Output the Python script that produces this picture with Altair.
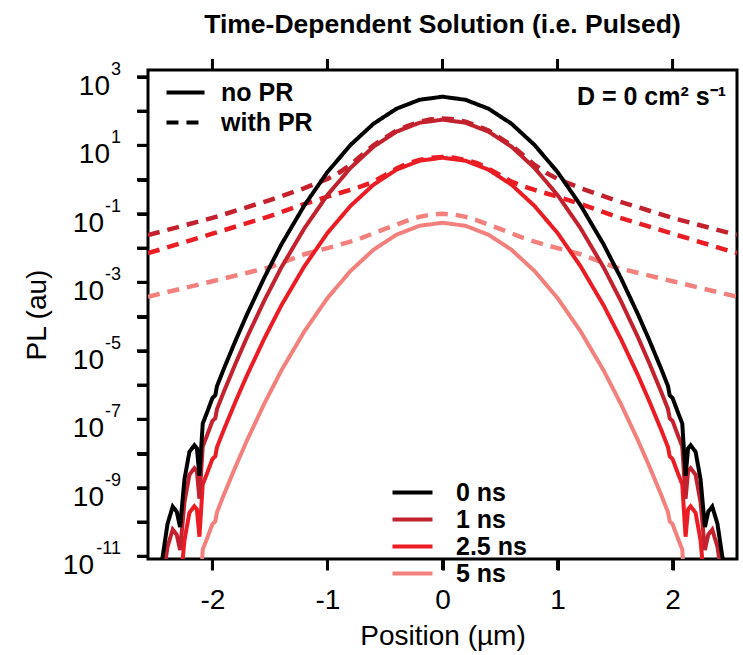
import altair as alt
import pandas as pd

# ---------------- data (log10 of PL) ----------------
times = ["0 ns", "1 ns", "2.5 ns", "5 ns"]
line_colors = ["#000000", "#c4212e", "#ec1c24", "#f3807c"]
pr_types = ["no PR", "with PR"]

positions_no_pr = [
    -2.45, -2.432, -2.39, -2.345, -2.31, -2.281, -2.243, -2.2, -2.157, -2.135,
    -2.113, -2.084, -2.05, -2.0, -1.975, -1.96, -1.9, -1.8, -1.7, -1.55,
    -1.4, -1.2, -1.0, -0.8, -0.6, -0.4, -0.2, 0.0,
    0.2, 0.4, 0.6, 0.8, 1.0, 1.2, 1.4, 1.55, 1.7, 1.8,
    1.9, 1.96, 1.975, 2.0, 2.05, 2.084, 2.113, 2.135, 2.157, 2.2,
    2.243, 2.281, 2.31, 2.345, 2.39, 2.432, 2.45,
]
log_0ns = [
    -11.3, -11.0, -10.05, -9.55, -9.70, -10.15, -8.75, -7.95, -7.76, -7.85,
    -8.65, -7.12, -6.83, -6.38, -6.30, -6.03, -5.52, -4.71, -3.94, -2.87,
    -1.89, -0.75, 0.22, 1.01, 1.63, 2.07, 2.33, 2.42,
    2.33, 2.07, 1.63, 1.01, 0.22, -0.75, -1.89, -2.87, -3.94, -4.71,
    -5.52, -6.03, -6.30, -6.38, -6.83, -7.12, -8.65, -7.85, -7.76, -7.95,
    -8.75, -10.15, -9.70, -9.55, -10.05, -11.0, -11.3,
]
log_1ns = [
    None, -11.67, -10.72, -10.22, -10.37, -10.82, -9.42, -8.62, -8.43, -8.52,
    -9.32, -7.79, -7.50, -7.05, -6.97, -6.70, -6.19, -5.38, -4.61, -3.54,
    -2.56, -1.42, -0.45, 0.34, 0.96, 1.40, 1.66, 1.75,
    1.66, 1.40, 0.96, 0.34, -0.45, -1.42, -2.56, -3.54, -4.61, -5.38,
    -6.19, -6.70, -6.97, -7.05, -7.50, -7.79, -9.32, -8.52, -8.43, -8.62,
    -9.42, -10.82, -10.37, -10.22, -10.72, -11.67, None,
]
log_2p5ns = [
    None, None, None, None, None, -11.93, -10.53, -9.73, -9.54, -9.63,
    -10.43, -8.90, -8.61, -8.16, -8.08, -7.81, -7.30, -6.49, -5.72, -4.65,
    -3.67, -2.53, -1.56, -0.77, -0.15, 0.29, 0.55, 0.64,
    0.55, 0.29, -0.15, -0.77, -1.56, -2.53, -3.67, -4.65, -5.72, -6.49,
    -7.30, -7.81, -8.08, -8.16, -8.61, -8.90, -10.43, -9.63, -9.54, -9.73,
    -10.53, -11.93, None, None, None, None, None,
]
log_5ns = [
    None, None, None, None, None, None, None, None, None, None,
    -12.33, -10.80, -10.51, -10.06, -9.98, -9.71, -9.20, -8.39, -7.62, -6.55,
    -5.57, -4.43, -3.46, -2.67, -2.05, -1.61, -1.35, -1.26,
    -1.35, -1.61, -2.05, -2.67, -3.46, -4.43, -5.57, -6.55, -7.62, -8.39,
    -9.20, -9.71, -9.98, -10.06, -10.51, -10.80, -12.33, None, None, None,
    None, None, None, None, None, None, None,
]

positions_with_pr = [
    -2.56, -2.0, -1.5, -1.2, -1.0, -0.9, -0.8, -0.7, -0.6, -0.5, -0.4, -0.3,
    -0.2, -0.1, 0.0, 0.1, 0.2, 0.3, 0.4, 0.5, 0.6, 0.7, 0.8, 0.9, 1.0, 1.2,
    1.5, 2.0, 2.56,
]
log_1ns_pr = [
    -1.62, -1.12, -0.60, -0.25, 0.02, 0.20, 0.43, 0.72, 1.00, 1.22, 1.43, 1.57,
    1.69, 1.76, 1.78, 1.76, 1.69, 1.57, 1.43, 1.22, 1.00, 0.72, 0.43, 0.20, 0.02,
    -0.25, -0.60, -1.12, -1.62,
]
log_2p5ns_pr = [
    -2.15, -1.58, -1.07, -0.71, -0.50, -0.40, -0.30, -0.19, -0.06, 0.13, 0.32,
    0.48, 0.57, 0.64, 0.66, 0.64, 0.57, 0.48, 0.32, 0.13, -0.06, -0.19, -0.30,
    -0.40, -0.50, -0.71, -1.07, -1.58, -2.15,
]
log_5ns_pr = [
    -3.42, -2.97, -2.56, -2.18, -2.00, -1.91, -1.81, -1.70, -1.57, -1.44, -1.32,
    -1.19, -1.09, -1.02, -1.00, -1.02, -1.09, -1.19, -1.32, -1.44, -1.57, -1.70,
    -1.81, -1.91, -2.00, -2.18, -2.56, -2.97, -3.42,
]

tick_exponents = list(range(-11, 4))
label_exponents = [3, 1, -1, -3, -5, -7, -9, -11]
x_ticks = [-2, -1, 0, 1, 2]
note_text = "D = 0 cm\u00b2 s\u207b\u00b9"
title_text = "Time-Dependent Solution (i.e. Pulsed)"

# ---------------- tables ----------------
rows = []
for t, vals in zip(["5 ns", "2.5 ns", "1 ns", "0 ns"], [log_5ns, log_2p5ns, log_1ns, log_0ns]):
    for x, v in zip(positions_no_pr, vals):
        if v is not None:
            rows.append({"x": x, "pl": 10 ** v, "time": t, "pr": "no PR"})
for t, vals in zip(["5 ns", "2.5 ns", "1 ns"], [log_5ns_pr, log_2p5ns_pr, log_1ns_pr]):
    for x, v in zip(positions_with_pr, vals):
        rows.append({"x": x, "pl": 10 ** v, "time": t, "pr": "with PR"})
df = pd.DataFrame(rows)
df["order"] = range(len(df))

FONT = "Liberation Sans"
PLOT_W, PLOT_H = 589, 489
TICK = 11

y_scale = alt.Scale(type="log", domain=[10 ** -11.08, 10 ** 3.2], nice=False)
x_scale = alt.Scale(domain=[-2.56, 2.56], nice=False, zero=False)

x_axis = alt.Axis(
    values=x_ticks, title="Position (\u00b5m)", labelFontSize=28,
    labelPadding=16, titleFontSize=28, titlePadding=8,
    ticks=True, tickSize=TICK, tickWidth=3, tickColor="black", domain=False,
    labelExpr="datum.value < 0 ? '-' + abs(datum.value) : '' + datum.value",
)
y_axis = alt.Axis(
    values=[10 ** k for k in tick_exponents], labels=False, title="PL (au)",
    titleFontSize=28, titlePadding=84,
    ticks=True, tickSize=TICK, tickWidth=3, tickColor="black", domain=False,
)

LINE_SYMBOL = "M-2,0H2"

color_enc = alt.Color(
    "time:N",
    scale=alt.Scale(domain=times, range=line_colors),
    legend=alt.Legend(
        title=None, orient="none", legendX=252, legendY=410,
        labelFontSize=25, labelFontWeight="bold", labelFont=FONT,
        symbolType=LINE_SYMBOL, symbolStrokeWidth=4, symbolSize=400,
        labelOffset=31, rowPadding=1, padding=0,
    ),
)
dash_enc = alt.StrokeDash(
    "pr:N",
    scale=alt.Scale(domain=pr_types, range=[[1, 0], [12, 8]]),
    legend=alt.Legend(
        title=None, orient="none", legendX=25, legendY=10,
        labelFontSize=25, labelFontWeight="bold", labelFont=FONT,
        symbolType=LINE_SYMBOL, symbolStrokeWidth=4, symbolSize=361,
        symbolStrokeColor="black", labelOffset=23, rowPadding=4, padding=0,
    ),
)

base = alt.Chart(df)

dashed = base.transform_filter("datum.pr == 'with PR'").mark_line(
    strokeWidth=4.5, clip=True
).encode(
    x=alt.X("x:Q", scale=x_scale, axis=x_axis),
    y=alt.Y("pl:Q", scale=y_scale, axis=y_axis),
    color=color_enc,
    strokeDash=dash_enc,
    order="order:Q",
)

solid = base.transform_filter("datum.pr == 'no PR'").mark_line(
    strokeWidth=4, clip=True
).encode(
    x=alt.X("x:Q", scale=x_scale, axis=x_axis),
    y=alt.Y("pl:Q", scale=y_scale, axis=y_axis),
    color=color_enc,
    strokeDash=dash_enc,
    order="order:Q",
)

# tick marks outside the frame (top: rules; bottom/left: thin filled rects)
xtick_data = alt.Chart(pd.DataFrame({"x": x_ticks}))
top_ticks = xtick_data.mark_rule(color="black", strokeWidth=3).encode(
    x=alt.X("x:Q", scale=x_scale, axis=x_axis),
    y=alt.value(-TICK),
    y2=alt.value(0),
)
bottom_ticks = xtick_data.transform_calculate(
    xa="datum.x - 0.013", xb="datum.x + 0.013"
).mark_rect(color="black", opacity=1).encode(
    x=alt.X("xa:Q", scale=x_scale, axis=x_axis),
    x2="xb:Q",
    y=alt.value(PLOT_H),
    y2=alt.value(PLOT_H + TICK),
)
left_ticks = alt.Chart(pd.DataFrame({"e": tick_exponents})).transform_calculate(
    pl="pow(10, datum.e - 0.044)", pl_hi="pow(10, datum.e + 0.044)"
).mark_rect(color="black", opacity=1).encode(
    y=alt.Y("pl:Q", scale=y_scale, axis=y_axis),
    y2="pl_hi:Q",
    x=alt.value(-TICK),
    x2=alt.value(0),
)

# y tick labels as "10" + superscript exponent
ylab = alt.Chart(pd.DataFrame({"e": label_exponents})).transform_calculate(
    pl="pow(10, datum.e)", etxt="toString(datum.e)"
)


def ten_layer(filter_expr, xpos):
    return ylab.transform_filter(filter_expr).mark_text(
        align="right", baseline="alphabetic", fontSize=28, dy=18, font=FONT,
        color="black",
    ).encode(
        x=alt.value(xpos),
        y=alt.Y("pl:Q", scale=y_scale, axis=y_axis),
        text=alt.value("10"),
    )


ten_pos = ten_layer("datum.e > 0", -38)
ten_neg1 = ten_layer("datum.e < 0 && datum.e > -10", -44)
ten_neg2 = ten_layer("datum.e <= -10", -54)

exp_text = ylab.mark_text(
    align="right", baseline="alphabetic", fontSize=18, dy=-2, font=FONT,
    color="black",
).encode(
    x=alt.value(-27),
    y=alt.Y("pl:Q", scale=y_scale, axis=y_axis),
    text="etxt:N",
)

note = alt.Chart(pd.DataFrame({"t": [note_text]})).mark_text(
    align="right", baseline="middle", fontSize=25, fontWeight="bold", font=FONT,
    color="black",
).encode(x=alt.value(578), y=alt.value(27), text="t:N")

chart = alt.layer(
    dashed, solid, top_ticks, bottom_ticks, left_ticks,
    ten_pos, ten_neg1, ten_neg2, exp_text, note,
).properties(
    width=PLOT_W, height=PLOT_H,
    title=alt.TitleParams(title_text, fontSize=26.5, fontWeight="bold", font=FONT,
                          anchor="middle", offset=19, color="black"),
    padding={"left": 148, "top": 70, "right": 6, "bottom": 96},
    autosize="none",
).configure_view(
    stroke="black", strokeWidth=3
).configure_axis(
    labelColor="black", titleColor="black", labelFont=FONT,
    titleFont=FONT, grid=False, titleFontWeight="normal",
).configure_legend(
    labelColor="black"
)

chart.save("out.html", embed_options={"renderer": "svg", "actions": False})
